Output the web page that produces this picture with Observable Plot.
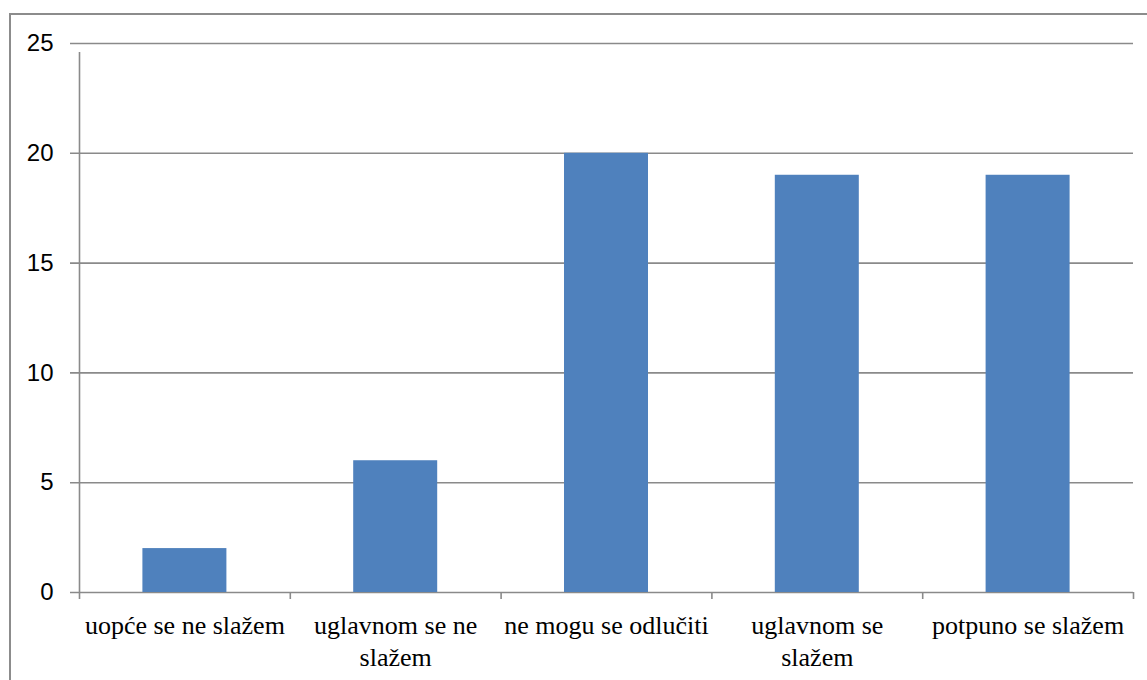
<!DOCTYPE html>
<html>
<head>
<meta charset="utf-8">
<script src="https://cdn.jsdelivr.net/npm/d3@7"></script>
<script src="https://cdn.jsdelivr.net/npm/@observablehq/plot@0.6"></script>
<style>
  html, body { margin: 0; padding: 0; background: #fff; overflow: hidden; }
  #wrap { position: relative; width: 1147px; height: 680px; overflow: hidden; }
  #border { position: absolute; left: 9px; top: 13px; width: 1200px; height: 720px; border: 2px solid #8c8c8c; box-sizing: border-box; pointer-events: none; }
  #chart svg { display: block; }
</style>
</head>
<body>
<div id="wrap"><div id="chart"></div><div id="border"></div></div>
<script>
const categories = ["uopće se ne slažem", "uglavnom se ne slažem", "ne mogu se odlučiti", "uglavnom se slažem", "potpuno se slažem"];
const tickLabels = ["uopće se ne slažem", "uglavnom se ne\nslažem", "ne mogu se odlučiti", "uglavnom se\nslažem", "potpuno se slažem"];
const values = [2, 6, 20, 19, 19];
const yTicks = [0, 5, 10, 15, 20, 25];

const data = categories.map((c, i) => ({category: c, value: values[i]}));

const W = 1147, H = 680, ML = 79, MR = 14, MT = 43, MB = 88;
const half = (W - ML - MR) / categories.length / 2;
const gray = "#8a8a8a";
const serif = "'Liberation Serif', 'Times New Roman', serif";

const chart = Plot.plot({
  width: W, height: H,
  marginLeft: ML, marginRight: MR, marginTop: MT, marginBottom: MB,
  style: {background: "transparent", color: "black", fontFamily: "'Liberation Sans', Arial, sans-serif"},
  x: {domain: categories, padding: 0, round: false, axis: null, label: null},
  y: {domain: [0, 25], axis: null, label: null},
  marks: [
    Plot.ruleY(yTicks, {stroke: gray, strokeWidth: 1.6, insetLeft: -9}),
    Plot.barY(data, {x: "category", y: "value", fill: "#4f81bd", insetLeft: 63.4, insetRight: 63.4}),
    Plot.ruleX(categories, {x: d => d, dx: -half, y1: 0, y2: 0, insetBottom: -7, stroke: gray, strokeWidth: 1.6}),
    Plot.ruleX(categories.slice(-1), {x: d => d, dx: half, y1: 0, y2: 0, insetBottom: -7, stroke: gray, strokeWidth: 1.6}),
    Plot.ruleX(categories.slice(0, 1), {x: d => d, dx: -half, y1: 0, y2: 25, insetBottom: -9, stroke: gray, strokeWidth: 1.6}),
    Plot.axisY({ticks: yTicks, tickSize: 0, tickPadding: 26, label: null, fontSize: 24, fill: "black"}),
    Plot.axisX({tickSize: 0, tickPadding: 19, label: null, fontSize: 26, fontFamily: serif, fill: "black", lineHeight: 1.23,
      tickFormat: d => tickLabels[categories.indexOf(d)]})
  ]
});
d3.select(chart).selectAll("g[aria-label='x-axis tick label']")
  .style("font-family", serif)
  .selectAll("text").style("font-family", serif);
document.getElementById("chart").appendChild(chart);
</script>
</body>
</html>
